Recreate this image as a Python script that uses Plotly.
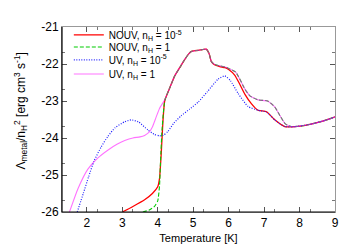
import plotly.graph_objects as go

# NOUV, nH = 1e-5 (red)
x_nouv5 = [3.0, 3.3, 3.63, 3.85, 4.0, 4.05, 4.1, 4.15, 4.2, 4.35, 4.48, 4.62, 4.76, 4.88, 4.95, 5.05, 5.15,
           5.27, 5.37, 5.45, 5.51, 5.6, 5.75, 5.9, 6.0, 6.17, 6.3, 6.46, 6.64, 6.83, 7.07, 7.3, 7.58, 7.87,
           8.2, 8.43, 8.7, 9.0]
y_nouv5 = [-26.0, -25.85, -25.67, -25.5, -25.32, -25.1, -24.4, -23.5, -22.98, -22.62, -22.32, -22.1, -21.88,
           -21.72, -21.66, -21.64, -21.63, -21.61, -21.6, -21.72, -21.93, -22.02, -22.07, -22.1, -22.15,
           -22.3, -22.52, -22.82, -23.07, -23.25, -23.29, -23.51, -23.69, -23.69, -23.65, -23.6, -23.53, -23.43]

# NOUV, nH = 1 (green)
x_nouv1 = [3.58, 3.75, 3.91, 4.0, 4.05, 4.08, 4.12, 4.17, 4.2, 4.35, 4.48, 4.62, 4.76, 4.88, 4.95, 5.05, 5.15,
           5.27, 5.37, 5.45, 5.51, 5.6, 5.75, 5.9, 6.0, 6.2, 6.46, 6.6, 6.83, 7.1, 7.3, 7.45, 7.6, 7.8,
           8.2, 8.43, 8.7, 9.0]
y_nouv1 = [-26.0, -25.95, -25.85, -25.7, -25.3, -24.6, -23.8, -23.2, -22.98, -22.62, -22.32, -22.1, -21.88,
           -21.72, -21.66, -21.64, -21.63, -21.61, -21.6, -21.72, -21.93, -22.01, -22.05, -22.08, -22.12,
           -22.22, -22.68, -22.86, -22.97, -23.0, -23.16, -23.4, -23.62, -23.7, -23.65, -23.6, -23.53, -23.43]

# UV, nH = 1e-5 (blue)
x_uv5 = [1.73, 1.9, 2.05, 2.2, 2.4, 2.59, 2.8, 3.07, 3.25, 3.45, 3.72, 3.9, 4.05, 4.15, 4.29, 4.45, 4.66,
         4.9, 5.14, 5.4, 5.7, 5.89, 6.05, 6.27, 6.55, 6.83, 7.07, 7.3, 7.58, 7.87, 8.2, 8.43, 8.7, 9.0]
y_uv5 = [-26.0, -25.5, -25.05, -24.63, -24.25, -23.96, -23.72, -23.56, -23.51, -23.56, -23.78, -23.9, -23.94,
         -23.93, -23.82, -23.6, -23.4, -23.22, -23.03, -22.75, -22.41, -22.32, -22.45, -22.8, -23.15, -23.25,
         -23.3, -23.51, -23.69, -23.69, -23.65, -23.6, -23.53, -23.43]

# UV, nH = 1 (magenta)
x_uv1 = [1.51, 1.75, 2.03, 2.3, 2.59, 2.85, 3.07, 3.3, 3.5, 3.63, 3.75, 3.85, 3.95, 4.05, 4.2, 4.35, 4.48,
         4.62, 4.76, 4.88, 4.95, 5.05, 5.15, 5.27, 5.37, 5.45, 5.51, 5.6, 5.75, 5.9, 6.0, 6.2, 6.46, 6.6,
         6.83, 7.1, 7.3, 7.45, 7.6, 7.8, 8.2, 8.43, 8.7, 9.0]
y_uv1 = [-26.0, -25.37, -24.84, -24.55, -24.33, -24.17, -24.07, -24.0, -23.97, -23.93, -23.85, -23.7, -23.45,
         -23.2, -22.96, -22.62, -22.32, -22.1, -21.88, -21.72, -21.66, -21.64, -21.63, -21.61, -21.6,
         -21.72, -21.93, -22.01, -22.05, -22.08, -22.12, -22.22, -22.68, -22.86, -22.97, -23.0, -23.16,
         -23.4, -23.62, -23.7, -23.65, -23.6, -23.53, -23.43]

x_ticks = [2, 3, 4, 5, 6, 7, 8, 9]
y_ticks = [-21, -22, -23, -24, -25, -26]
x_minor = [2.3, 3.3, 4.3, 5.3, 6.3, 7.3, 8.3]
y_minor = [-21.7, -22.7, -23.7, -24.7, -25.7]

FONT = "Liberation Sans, Arial, sans-serif"

series = [
    (x_nouv5, y_nouv5, "NOUV, n<sub>H</sub> = 10<sup>-5</sup>", "#ff0000", "solid", 1.3, 1.0),
    (x_nouv1, y_nouv1, "NOUV, n<sub>H</sub> = 1", "#00cc00", "4px,2px", 1.1, 1.0),
    (x_uv5, y_uv5, "UV, n<sub>H</sub> = 10<sup>-5</sup>", "#2222ff", "1px,1.5px", 1.2, 1.0),
    (x_uv1, y_uv1, "UV, n<sub>H</sub> = 1", "#ff00ff", "solid", 1.1, 0.55),
]
legend_names = ["legend", "legend2", "legend3", "legend4"]
legend_rows_px = [23, 35.5, 48.5, 63]

fig = go.Figure()
for (xs, ys, name, col, dash, w, op), lg in zip(series, legend_names):
    fig.add_trace(go.Scatter(x=xs, y=ys, mode="lines", name=name, legend=lg, opacity=op,
                             line=dict(color=col, dash=dash, width=w, shape="spline", smoothing=0.5)))

axis_common = dict(showline=True, linecolor="#999", linewidth=1, mirror="allticks", ticks="inside",
                   ticklen=5, tickcolor="#555", showgrid=False, zeroline=False,
                   tickfont=dict(family=FONT, size=12, color="#000"))

fig.update_xaxes(range=[1.3, 9], tickvals=x_ticks, ticktext=[str(v) for v in x_ticks],
                 title=dict(text="Temperature [K]", font=dict(family=FONT, size=11, color="#000"), standoff=4),
                 minor=dict(tickvals=x_minor, ticks="inside", ticklen=3, tickcolor="#777"),
                 **axis_common)
fig.update_yaxes(range=[-26, -21], tickvals=y_ticks, ticktext=[str(v) for v in y_ticks],
                 minor=dict(tickvals=y_minor, ticks="inside", ticklen=3, tickcolor="#777"),
                 **axis_common)

# y-axis title as a rotated text label, centred on the plot height
fig.add_annotation(text="Λ<sub>metal</sub>/n<sub>H</sub><sup>2</sup> [erg cm<sup>3</sup> s<sup>-1</sup>]",
                   xref="paper", yref="paper", x=0, y=0.5, xshift=-42, yshift=8,
                   textangle=-90, showarrow=False, xanchor="center", yanchor="middle",
                   font=dict(family=FONT, size=12, color="#000"))

# black left and bottom frame edges (top/right stay grey as in the reference)
fig.add_shape(type="line", xref="paper", yref="paper", x0=0, x1=0, y0=0, y1=1,
              line=dict(color="#000", width=1.2), layer="above")
fig.add_shape(type="line", xref="paper", yref="paper", x0=0, x1=1, y0=0, y1=0,
              line=dict(color="#000", width=1.2), layer="above")

plot_top, plot_h = 15, 189
legends = {}
for lg, py in zip(legend_names, legend_rows_px):
    legends[lg] = dict(x=0.025, y=(plot_top + plot_h - py) / plot_h, xanchor="left", yanchor="middle",
                       bgcolor="rgba(0,0,0,0)", font=dict(family=FONT, size=10, color="#000"),
                       itemwidth=30)

fig.update_layout(
    width=350, height=245,
    margin=dict(l=54, r=23, t=15, b=41),
    paper_bgcolor="white", plot_bgcolor="white",
    font=dict(family=FONT, size=10, color="#000"),
    showlegend=True,
    **legends,
)

fig.write_html("out.html")
